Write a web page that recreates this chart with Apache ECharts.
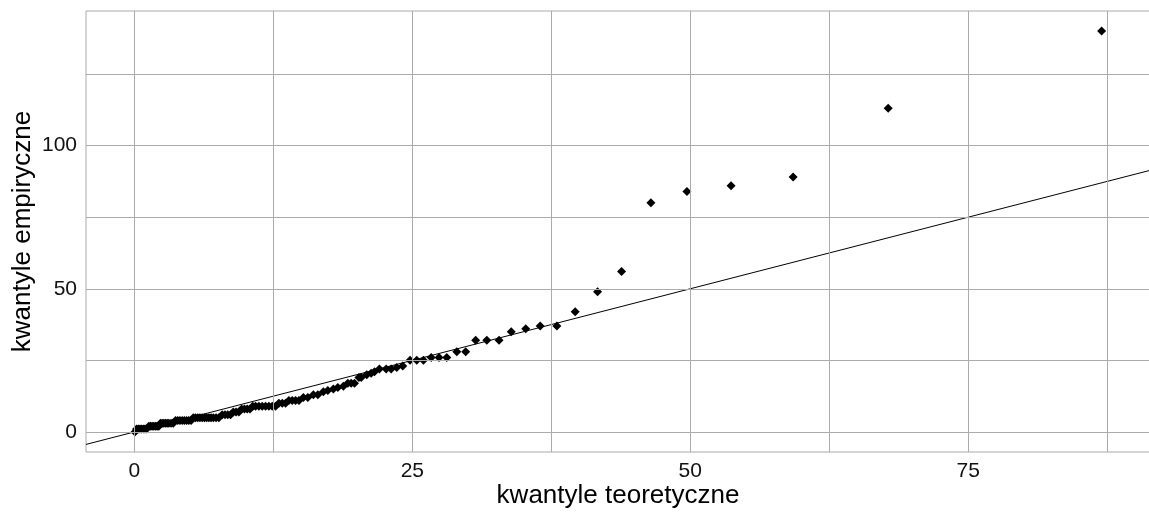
<!DOCTYPE html>
<html>
<head>
<meta charset="utf-8">
<script src="https://cdn.jsdelivr.net/npm/echarts@6/dist/echarts.min.js"></script>
<style>
  html, body { margin: 0; padding: 0; background: #ffffff; }
  #chart { width: 1149px; height: 512px; }
</style>
</head>
<body>
<div id="chart"></div>
<script>
const theoretical = [
  0.05,
  0.2, 0.35, 0.5, 0.65, 0.8, 0.95, 1.1,
  1.3, 1.45, 1.6, 1.75, 1.9, 2.05, 2.2,
  2.35, 2.5, 2.65, 2.8, 2.95, 3.1, 3.3, 3.5,
  3.7, 3.9, 4.1, 4.3, 4.5, 4.7, 4.9, 5.1,
  5.3, 5.5, 5.7, 5.9, 6.1, 6.3, 6.5, 6.7, 6.9, 7.1, 7.35, 7.6,
  7.9, 8.15, 8.4, 8.65,
  8.9, 9.15, 9.4,
  9.65, 9.9, 10.15, 10.4,
  10.65, 10.9, 11.2, 11.5, 11.8, 12.1, 12.4, 12.7,
  13.0, 13.3, 13.6,
  13.9, 14.2, 14.5, 14.8,
  15.2, 15.6,
  16.1, 16.5,
  17.0, 17.4,
  17.9, 18.3,
  18.8, 19.2,
  19.5, 19.8,
  20.2, 20.4,
  20.9, 21.3, 21.6,
  22.04, 22.65, 23.1,
  23.6, 24.14,
  24.8, 25.4, 26.0,
  26.7, 27.4, 28.1,
  29.0, 29.8,
  30.7, 31.7, 32.8,
  33.9, 35.2, 36.5, 38.0,
  39.65, 41.66, 43.82, 46.46, 49.7, 53.67, 59.25, 67.8, 87.0
];
const empirical = [
  0,
  1, 1, 1, 1, 1, 1, 1,
  2, 2, 2, 2, 2, 2, 2,
  3, 3, 3, 3, 3, 3, 3, 3,
  4, 4, 4, 4, 4, 4, 4, 4,
  5, 5, 5, 5, 5, 5, 5, 5, 5, 5, 5, 5,
  6, 6, 6, 6,
  7, 7, 7,
  8, 8, 8, 8,
  9, 9, 9, 9, 9, 9, 9, 9,
  10, 10, 10,
  11, 11, 11, 11,
  12, 12,
  13, 13,
  14, 14.5,
  15, 15.5,
  16, 17,
  17, 17,
  19, 19,
  20, 20.5, 21,
  22, 22, 22,
  22.5, 23,
  25, 25, 25,
  26, 26, 26,
  28, 28,
  32, 32, 32,
  35, 36, 37, 37,
  42, 49, 56, 80, 84, 86, 89, 113, 140
];

// Reference line y = intercept + slope * x
const refIntercept = 0;
const refSlope = 1;

// Axis breaks
const xBreaks = [0, 25, 50, 75];
const xMinorBreaks = [12.5, 37.5, 62.5, 87.5];
const yBreaks = [0, 50, 100];
const yMinorBreaks = [25, 75, 125];
const xLimits = [-4.35, 91.35];
const yLimits = [-7, 147];

const points = theoretical.map((x, i) => [x, empirical[i]]);
const refLine = xLimits.map(x => [x, refIntercept + refSlope * x]);

const gridColor = '#ababab';
const gridLines = []
  .concat(xBreaks.concat(xMinorBreaks).map(v => ({ xAxis: v })))
  .concat(yBreaks.concat(yMinorBreaks).map(v => ({ yAxis: v })));

const myChart = echarts.init(document.getElementById('chart'), null, { renderer: 'canvas' });

myChart.setOption({
  animation: false,
  backgroundColor: '#ffffff',
  textStyle: { fontFamily: 'Liberation Sans, Arial, sans-serif' },
  grid: {
    left: 86, right: -1, top: 11, bottom: 60,
    outerBoundsMode: 'none',
    containLabel: false,
    show: true, borderColor: gridColor, borderWidth: 1, backgroundColor: '#ffffff'
  },
  xAxis: {
    type: 'value',
    min: xLimits[0], max: xLimits[1],
    name: 'kwantyle teoretyczne',
    nameLocation: 'middle',
    nameMoveOverlap: false,
    nameGap: 31,
    nameTextStyle: { fontSize: 26, color: '#000000' },
    axisLine: { show: false },
    splitLine: { show: false },
    axisTick: { show: true, length: 5, customValues: xBreaks, lineStyle: { color: '#333333' } },
    axisLabel: { customValues: xBreaks, fontSize: 21, color: '#111111', margin: 9 }
  },
  yAxis: {
    type: 'value',
    min: yLimits[0], max: yLimits[1],
    name: 'kwantyle empiryczne',
    nameLocation: 'middle',
    nameMoveOverlap: false,
    nameGap: 50,
    nameTextStyle: { fontSize: 26, color: '#000000' },
    axisLine: { show: false },
    splitLine: { show: false },
    axisTick: { show: true, length: 5, customValues: yBreaks, lineStyle: { color: '#333333' } },
    axisLabel: { customValues: yBreaks, fontSize: 21, color: '#111111', margin: 9 }
  },
  series: [
    {
      type: 'line',
      data: [],
      silent: true,
      markLine: {
        silent: true,
        symbol: 'none',
        label: { show: false },
        lineStyle: { color: gridColor, width: 1, type: 'solid' },
        data: gridLines
      }
    },
    {
      type: 'line',
      data: refLine,
      showSymbol: false,
      silent: true,
      lineStyle: { color: '#000000', width: 1 }
    },
    {
      type: 'scatter',
      data: points,
      symbol: 'diamond',
      symbolSize: 9,
      itemStyle: { color: '#000000', opacity: 1 }
    }
  ]
});

window.addEventListener('resize', () => {
  myChart.resize();
});
</script>
</body>
</html>
